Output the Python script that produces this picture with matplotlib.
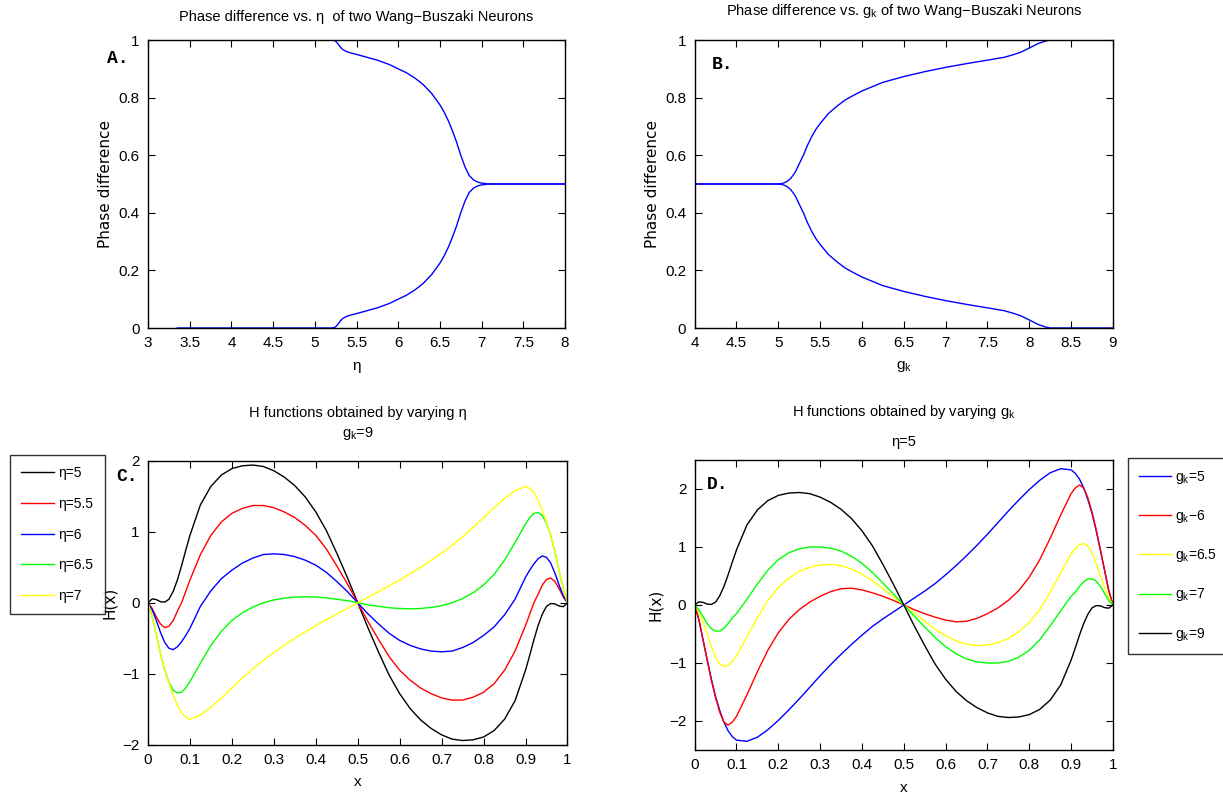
import numpy as np
import matplotlib
matplotlib.use("Agg")
import matplotlib.pyplot as plt

plt.rcParams['font.family'] = ['Liberation Sans', 'DejaVu Sans']
plt.rcParams['mathtext.fontset'] = 'custom'
plt.rcParams['mathtext.rm'] = 'Liberation Sans'
plt.rcParams['font.size'] = 11

# ---- panel A: phase difference vs eta ----
eta_x = [3.35, 5.2, 5.24, 5.27, 5.3, 5.33, 5.37, 5.42, 5.5, 5.6, 5.75, 5.9, 6.0, 6.1, 6.2, 6.3, 6.4,
         6.5, 6.55, 6.6, 6.65, 6.7, 6.75, 6.8, 6.85, 6.9, 6.95, 7.0, 7.1, 8.0]
eta_upper = [1.0, 1.0, 0.998, 0.99, 0.978, 0.968, 0.961, 0.956, 0.95, 0.942, 0.93, 0.914, 0.9, 0.886,
             0.868, 0.845, 0.815, 0.775, 0.75, 0.72, 0.685, 0.645, 0.6, 0.56, 0.53, 0.515, 0.507,
             0.503, 0.5, 0.5]
eta_lower = [0.0, 0.0, 0.002, 0.01, 0.022, 0.032, 0.039, 0.044, 0.05, 0.058, 0.07, 0.086, 0.1, 0.114,
             0.132, 0.155, 0.185, 0.225, 0.25, 0.28, 0.315, 0.355, 0.4, 0.44, 0.47, 0.485, 0.493,
             0.497, 0.5, 0.5]

# ---- panel B: phase difference vs g_k ----
gk_x = [4.0, 5.0, 5.05, 5.1, 5.15, 5.2, 5.25, 5.3, 5.35, 5.4, 5.45, 5.5, 5.6, 5.7, 5.8, 5.9, 6.0,
        6.25, 6.5, 6.75, 7.0, 7.25, 7.5, 7.7, 7.8, 7.9, 8.0, 8.1, 8.2, 8.25, 9.0]
gk_upper = [0.5, 0.5, 0.502, 0.508, 0.52, 0.54, 0.57, 0.6, 0.635, 0.665, 0.69, 0.71, 0.745, 0.77,
            0.792, 0.808, 0.823, 0.853, 0.873, 0.89, 0.905, 0.918, 0.93, 0.94, 0.948, 0.958, 0.972,
            0.987, 0.997, 1.0, 1.0]
gk_lower = [0.5, 0.5, 0.498, 0.492, 0.48, 0.46, 0.43, 0.4, 0.365, 0.335, 0.31, 0.29, 0.255, 0.23,
            0.208, 0.192, 0.177, 0.147, 0.127, 0.11, 0.095, 0.082, 0.07, 0.06, 0.052, 0.042, 0.028,
            0.013, 0.003, 0.0, 0.0]

# ---- H functions ----
hx = [0, 0.01, 0.02, 0.03, 0.04, 0.05, 0.06, 0.07, 0.08, 0.09, 0.1, 0.125, 0.15, 0.175, 0.2, 0.225,
      0.25, 0.275, 0.3, 0.325, 0.35, 0.375, 0.4, 0.425, 0.45, 0.475, 0.5,
      0.525, 0.55, 0.575, 0.6, 0.625, 0.65, 0.675, 0.7, 0.725, 0.75, 0.775, 0.8, 0.825,
      0.85, 0.875, 0.9, 0.91, 0.92, 0.93, 0.94, 0.95, 0.96, 0.97, 0.98, 0.99, 1.0]

# eta=5, gk=9 (same curve in C and D)
h_eta5 = [0, 0.055, 0.045, 0.015, 0.01, 0.05, 0.16, 0.32, 0.52, 0.74, 0.95, 1.38, 1.64, 1.8, 1.89, 1.93,
          1.94, 1.92, 1.86, 1.77, 1.65, 1.49, 1.28, 1.02, 0.7, 0.36, 0,
          -0.36, -0.7, -1.02, -1.28, -1.49, -1.65, -1.77, -1.86, -1.92, -1.94, -1.93, -1.89, -1.8,
          -1.64, -1.38, -0.95, -0.74, -0.52, -0.32, -0.16, -0.05, -0.01, -0.015, -0.045, -0.055, 0]
h_eta55 = [0, -0.08, -0.2, -0.3, -0.35, -0.33, -0.25, -0.12, 0.0, 0.16, 0.32, 0.68, 0.95, 1.14, 1.26, 1.33,
           1.37, 1.37, 1.34, 1.28, 1.2, 1.09, 0.95, 0.76, 0.52, 0.27, 0,
           -0.27, -0.52, -0.76, -0.95, -1.09, -1.2, -1.28, -1.34, -1.37, -1.37, -1.33, -1.26, -1.14,
           -0.95, -0.68, -0.32, -0.16, 0.0, 0.12, 0.25, 0.33, 0.35, 0.3, 0.2, 0.08, 0]
h_eta6 = [0, -0.1, -0.25, -0.42, -0.56, -0.64, -0.66, -0.62, -0.55, -0.46, -0.36, -0.05, 0.17, 0.34, 0.46, 0.56,
          0.63, 0.68, 0.69, 0.68, 0.65, 0.6, 0.53, 0.43, 0.3, 0.16, 0,
          -0.16, -0.3, -0.43, -0.53, -0.6, -0.65, -0.68, -0.69, -0.68, -0.63, -0.56, -0.46, -0.34,
          -0.17, 0.05, 0.36, 0.46, 0.55, 0.62, 0.66, 0.64, 0.56, 0.42, 0.25, 0.1, 0]
h_eta65 = [0, -0.2, -0.45, -0.72, -0.95, -1.12, -1.23, -1.27, -1.26, -1.2, -1.11, -0.85, -0.6, -0.4, -0.25, -0.14,
           -0.06, 0.0, 0.04, 0.065, 0.08, 0.085, 0.08, 0.07, 0.05, 0.03, 0,
           -0.03, -0.05, -0.07, -0.08, -0.085, -0.08, -0.065, -0.04, 0.0, 0.06, 0.14, 0.25, 0.4,
           0.6, 0.85, 1.11, 1.2, 1.26, 1.27, 1.23, 1.12, 0.95, 0.72, 0.45, 0.2, 0]
h_eta7 = [0, -0.2, -0.45, -0.72, -0.95, -1.13, -1.3, -1.44, -1.55, -1.61, -1.64, -1.58, -1.47, -1.34, -1.2, -1.06,
          -0.93, -0.81, -0.7, -0.6, -0.5, -0.41, -0.32, -0.24, -0.16, -0.08, 0,
          0.08, 0.16, 0.24, 0.32, 0.41, 0.5, 0.6, 0.7, 0.81, 0.93, 1.06, 1.2, 1.34,
          1.47, 1.58, 1.64, 1.61, 1.55, 1.44, 1.3, 1.13, 0.95, 0.72, 0.45, 0.2, 0]

h_gk5 = [0, -0.25, -0.6, -0.95, -1.28, -1.58, -1.82, -2.02, -2.17, -2.27, -2.33, -2.35, -2.28, -2.15, -1.99, -1.81,
         -1.62, -1.42, -1.22, -1.03, -0.85, -0.68, -0.52, -0.37, -0.24, -0.12, 0,
         0.12, 0.24, 0.37, 0.52, 0.68, 0.85, 1.03, 1.22, 1.42, 1.62, 1.81, 1.99, 2.15,
         2.28, 2.35, 2.33, 2.27, 2.17, 2.02, 1.82, 1.58, 1.28, 0.95, 0.6, 0.25, 0]
h_gk6 = [0, -0.25, -0.6, -0.95, -1.3, -1.6, -1.85, -2.02, -2.07, -2.02, -1.92, -1.55, -1.15, -0.78, -0.48, -0.25,
         -0.08, 0.05, 0.15, 0.23, 0.28, 0.29, 0.26, 0.21, 0.15, 0.08, 0,
         -0.08, -0.15, -0.21, -0.26, -0.29, -0.28, -0.23, -0.15, -0.05, 0.08, 0.25, 0.48, 0.78,
         1.15, 1.55, 1.92, 2.02, 2.07, 2.02, 1.85, 1.6, 1.3, 0.95, 0.6, 0.25, 0]
h_gk65 = [0, -0.12, -0.3, -0.5, -0.72, -0.9, -1.02, -1.06, -1.04, -0.97, -0.88, -0.55, -0.22, 0.08, 0.3, 0.46,
          0.58, 0.65, 0.69, 0.7, 0.68, 0.62, 0.53, 0.42, 0.28, 0.14, 0,
          -0.14, -0.28, -0.42, -0.53, -0.62, -0.68, -0.7, -0.69, -0.65, -0.58, -0.46, -0.3, -0.08,
          0.22, 0.55, 0.88, 0.97, 1.04, 1.06, 1.02, 0.9, 0.72, 0.5, 0.3, 0.12, 0]
h_gk7 = [0, -0.08, -0.2, -0.32, -0.41, -0.45, -0.45, -0.4, -0.32, -0.22, -0.15, 0.1, 0.36, 0.6, 0.78, 0.9,
         0.97, 1.0, 1.0, 0.98, 0.93, 0.84, 0.72, 0.56, 0.38, 0.19, 0,
         -0.19, -0.38, -0.56, -0.72, -0.84, -0.93, -0.98, -1.0, -1.0, -0.97, -0.9, -0.78, -0.6,
         -0.36, -0.1, 0.15, 0.22, 0.32, 0.4, 0.45, 0.45, 0.41, 0.32, 0.2, 0.08, 0]

c_labels = ['η=5', 'η=5.5', 'η=6', 'η=6.5', 'η=7']
c_curves = [h_eta5, h_eta55, h_eta6, h_eta65, h_eta7]
c_colors = ['k', 'r', 'b', '#00ff00', '#ffff00']

d_labels = [r'g$_\mathregular{k}$=5', r'g$_\mathregular{k}$−6', r'g$_\mathregular{k}$=6.5',
            r'g$_\mathregular{k}$=7', r'g$_\mathregular{k}$=9']
d_curves = [h_gk5, h_gk6, h_gk65, h_gk7, h_eta5]
d_colors = ['b', 'r', '#ffff00', '#00ff00', 'k']


def style(ax):
    ax.tick_params(direction='in', top=True, right=True, length=5, width=0.8, labelsize=11, pad=6)
    for s in ax.spines.values():
        s.set_linewidth(1.0)


fig = plt.figure(figsize=(12.23, 8), dpi=100)
axA = fig.add_axes([0.121, 0.59, 0.341, 0.36])
axB = fig.add_axes([0.568, 0.59, 0.342, 0.36])
axC = fig.add_axes([0.121, 0.069, 0.343, 0.355])
axD = fig.add_axes([0.568, 0.0625, 0.342, 0.3625])

mono = {'family': 'Liberation Mono', 'weight': 'bold', 'size': 13}
tsize = 10.5

# A
axA.plot(eta_x, eta_upper, color='b', lw=1.0)
axA.plot(eta_x, eta_lower, color='b', lw=1.0)
axA.set_xlim(3, 8)
axA.set_ylim(0, 1)
axA.set_xticks(np.arange(3, 8.01, 0.5))
axA.set_xticklabels(['3', '3.5', '4', '4.5', '5', '5.5', '6', '6.5', '7', '7.5', '8'])
axA.set_yticks([0, 0.2, 0.4, 0.6, 0.8, 1])
axA.set_yticklabels(['0', '0.2', '0.4', '0.6', '0.8', '1'])
axA.set_xlabel('η', fontsize=11, labelpad=6)
axA.set_ylabel('Phase difference', fontsize=11, family='DejaVu Sans', labelpad=4)
axA.set_title('Phase difference vs. η  of two Wang\u2212Buszaki Neurons', fontsize=tsize, pad=14)
axA.text(-0.098, 0.92, 'A.', transform=axA.transAxes, fontdict=mono)
style(axA)

# B
axB.plot(gk_x, gk_upper, color='b', lw=1.0)
axB.plot(gk_x, gk_lower, color='b', lw=1.0)
axB.set_xlim(4, 9)
axB.set_ylim(0, 1)
axB.set_xticks(np.arange(4, 9.01, 0.5))
axB.set_xticklabels(['4', '4.5', '5', '5.5', '6', '6.5', '7', '7.5', '8', '8.5', '9'])
axB.set_yticks([0, 0.2, 0.4, 0.6, 0.8, 1])
axB.set_yticklabels(['0', '0.2', '0.4', '0.6', '0.8', '1'])
axB.set_xlabel(r'g$_\mathregular{k}$', fontsize=11, labelpad=6)
axB.set_ylabel('Phase difference', fontsize=11, family='DejaVu Sans', labelpad=4)
axB.set_title(r'Phase difference vs. g$_\mathregular{k}$ of two Wang$-$Buszaki Neurons', fontsize=tsize, pad=18)
axB.text(0.04, 0.9, 'B.', transform=axB.transAxes, fontdict=mono)
style(axB)

# C
for lab, yv, col in zip(c_labels, c_curves, c_colors):
    axC.plot(hx, yv, color=col, lw=1.0, label=lab)
axC.set_xlim(0, 1)
axC.set_ylim(-2, 2)
axC.set_xticks(np.arange(0, 1.01, 0.1))
axC.set_xticklabels(['0', '0.1', '0.2', '0.3', '0.4', '0.5', '0.6', '0.7', '0.8', '0.9', '1'])
axC.set_yticks([-2, -1, 0, 1, 2])
axC.set_xlabel('x', fontsize=11, labelpad=6)
axC.set_ylabel('H(x)', fontsize=11, family='DejaVu Sans', labelpad=4)
axC.set_title('H functions obtained by varying η\n' + r'g$_\mathregular{k}$=9', fontsize=tsize, pad=17,
              linespacing=1.45)
axC.text(-0.075, 0.93, 'C.', transform=axC.transAxes, fontdict=mono)
style(axC)
legC = axC.legend(loc='upper left', bbox_to_anchor=(0.008, 0.431), bbox_transform=fig.transFigure,
                  fancybox=False, edgecolor='k', handlelength=2.4, labelspacing=1.2,
                  borderpad=0.8, handletextpad=0.3, borderaxespad=0, fontsize=10)
legC.get_frame().set_linewidth(1.0)

# D
for lab, yv, col in zip(d_labels, d_curves, d_colors):
    axD.plot(hx, yv, color=col, lw=1.0, label=lab)
axD.set_xlim(0, 1)
axD.set_ylim(-2.5, 2.5)
axD.set_xticks(np.arange(0, 1.01, 0.1))
axD.set_xticklabels(['0', '0.1', '0.2', '0.3', '0.4', '0.5', '0.6', '0.7', '0.8', '0.9', '1'])
axD.set_yticks([-2, -1, 0, 1, 2])
axD.set_xlabel('x', fontsize=11, labelpad=6)
axD.set_ylabel('H(x)', fontsize=11, family='DejaVu Sans', labelpad=4)
axD.set_title(r'H functions obtained by varying g$_\mathregular{k}$' + '\nη=5', fontsize=tsize, pad=10,
              linespacing=2.3)
axD.text(0.03, 0.9, 'D.', transform=axD.transAxes, fontdict=mono)
style(axD)
legD = axD.legend(loc='upper left', bbox_to_anchor=(0.922, 0.428), bbox_transform=fig.transFigure,
                  fancybox=False, edgecolor='k', handlelength=2.3, labelspacing=1.6,
                  borderpad=0.8, handletextpad=0.3, borderaxespad=0, fontsize=10)
legD.get_frame().set_linewidth(1.0)

fig.savefig('out.png', dpi=100)
